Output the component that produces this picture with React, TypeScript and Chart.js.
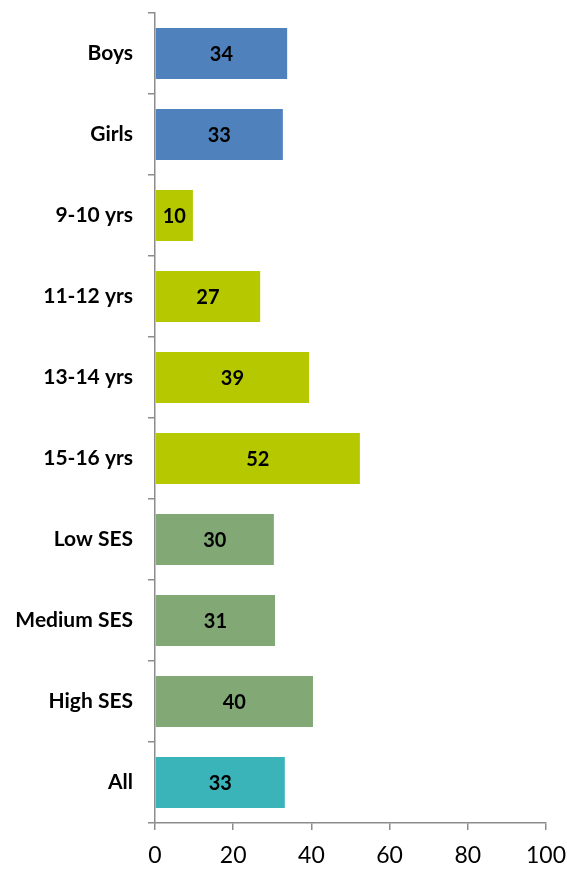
import React, { useEffect, useRef } from "react";
import { Chart, registerables } from "chart.js";

Chart.register(...registerables);

const categories = ["Boys", "Girls", "9-10 yrs", "11-12 yrs", "13-14 yrs", "15-16 yrs", "Low SES", "Medium SES", "High SES", "All"];
const values = [33.8, 32.7, 9.7, 26.9, 39.4, 52.4, 30.4, 30.7, 40.4, 33.2];
const valueLabels = ["34", "33", "10", "27", "39", "52", "30", "31", "40", "33"];
const barColors = ["#4F81BD", "#4F81BD", "#B5C800", "#B5C800", "#B5C800", "#B5C800", "#82A876", "#82A876", "#82A876", "#3AB4B9"];
const xTicks = [0, 20, 40, 60, 80, 100];

const FONT = "Lato, 'Open Sans', sans-serif";

const valueLabelPlugin = {
  id: "valueLabels",
  afterDatasetsDraw(chart: any) {
    const ctx = chart.ctx;
    const meta = chart.getDatasetMeta(0);
    ctx.save();
    ctx.fillStyle = "#000";
    ctx.font = `bold 20px ${FONT}`;
    ctx.textAlign = "center";
    ctx.textBaseline = "middle";
    meta.data.forEach((bar: any, i: number) => {
      const cx = (bar.x + bar.base) / 2;
      ctx.fillText(valueLabels[i], cx, bar.y + 1);
    });
    ctx.restore();
  },
};

export default function App() {
  const ref = useRef<HTMLCanvasElement>(null);
  useEffect(() => {
    const chart = new Chart(ref.current!, {
      type: "bar",
      data: {
        labels: categories,
        datasets: [
          {
            data: values,
            backgroundColor: barColors,
            barPercentage: 0.63,
            categoryPercentage: 1,
          },
        ],
      },
      options: {
        indexAxis: "y",
        animation: false,
        responsive: false,
        layout: { padding: { top: 13, right: 21, left: 0, bottom: 0 } },
        plugins: { legend: { display: false }, tooltip: { enabled: false } },
        scales: {
          x: {
            min: 0,
            max: 100,
            afterBuildTicks: (axis: any) => {
              axis.ticks = xTicks.map((v) => ({ value: v }));
            },
            afterFit: (axis: any) => {
              axis.height = 48;
              axis.paddingLeft = 0;
              axis.paddingRight = 0;
            },
            grid: { drawOnChartArea: false, tickLength: 7, color: "#8c8c8c", lineWidth: 1.5 },
            border: { color: "#8c8c8c", width: 1.5 },
            ticks: { color: "#000", font: { family: FONT, size: 23 }, padding: 12, maxRotation: 0 },
          },
          y: {
            afterFit: (axis: any) => {
              axis.width = 155;
              axis.paddingTop = 0;
              axis.paddingBottom = 0;
            },
            grid: { drawOnChartArea: false, offset: true, tickLength: 7, color: "#8c8c8c", lineWidth: 1.5 },
            border: { color: "#8c8c8c", width: 1.5 },
            ticks: { color: "#000", font: { family: FONT, size: 21, weight: "bold" }, padding: 15 },
          },
        },
      },
      plugins: [valueLabelPlugin],
    });
    return () => chart.destroy();
  }, []);
  return (
    <div style={{ position: "fixed", left: 0, top: 0, width: 567, height: 871 }}>
      <canvas ref={ref} width={567} height={871} style={{ width: 567, height: 871 }} />
    </div>
  );
}
